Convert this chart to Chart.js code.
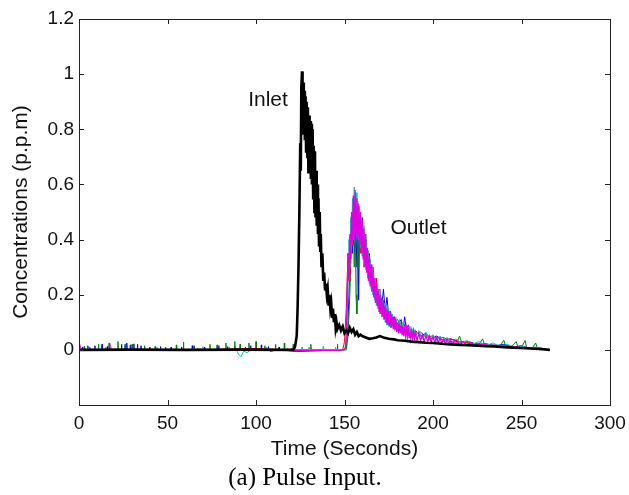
<!DOCTYPE html>
<html>
<head>
<meta charset="utf-8">
<script src="https://cdn.jsdelivr.net/npm/chart.js@4.4.1/dist/chart.umd.min.js"></script>
<style>
html,body{margin:0;padding:0;background:#fff;}
#wrap{width:629px;height:495px;}
</style>
</head>
<body>
<div id="wrap"><canvas id="c" width="629" height="495"></canvas></div>
<script>
// ---------- DATA ----------
const xTicks = [0, 50, 100, 150, 200, 250, 300];
const yTicks = [0, 0.2, 0.4, 0.6, 0.8, 1, 1.2];
const xTitle = 'Time (Seconds)';
const yTitle = 'Concentrations (p.p.m)';
const caption = '(a) Pulse Input.';
const labelInlet = { text: 'Inlet', t: 106.8, c: 0.905 };
const labelOutlet = { text: 'Outlet', t: 191.8, c: 0.44 };

// Inlet concentration (black) [time s, ppm]
const inlet = [[0,0],[30,0.001],[60,0],[90,0.001],[121,0],[122,0.01],[123,0.05],[123.5,0.15],[124,0.3],[124.5,0.5],
[125,0.75],[125.3,0.65],[125.6,0.95],[126,1.01],[126.3,0.78],[126.6,0.97],[127,0.8],[127.3,0.94],[127.6,0.76],[128,0.92],
[128.3,0.72],[128.6,0.9],[129,0.7],[129.3,0.88],[129.6,0.64],[130,0.85],[130.3,0.7],[130.6,0.83],[131,0.62],[131.3,0.82],
[131.6,0.6],[132,0.8],[132.3,0.55],[132.6,0.74],[133,0.5],[133.3,0.72],[133.6,0.48],[134,0.65],[134.3,0.45],[134.6,0.6],
[135,0.42],[135.3,0.55],[135.6,0.38],[136,0.5],[136.3,0.36],[136.6,0.42],[137,0.3],[137.5,0.35],[138,0.25],[138.5,0.28],
[139,0.22],[139.5,0.24],[140,0.2],[140.5,0.22],[141,0.16],[141.5,0.2],[142,0.15],[142.5,0.17],[143,0.12],[143.5,0.15],
[144,0.1],[144.5,0.13],[145,0.08],[145.5,0.1],[146,0.075],[147,0.09],[148,0.07],[149,0.085],[150,0.06],[151,0.07],
[152,0.06],[153,0.08],[154,0.065],[155,0.075],[156,0.055],[157,0.065],[158,0.05],[159,0.055],[160,0.05],[162,0.045],
[164,0.04],[166,0.042],[168,0.045],[170,0.05],[172,0.045],[175,0.04],[178,0.038],[180,0.035],[184,0.033],[188,0.03],
[192,0.028],[196,0.026],[200,0.025],[205,0.022],[210,0.02],[215,0.018],[220,0.017],[225,0.015],[230,0.013],[235,0.012],
[240,0.01],[245,0.008],[250,0.007],[255,0.005],[260,0.003],[266,0]];

// Outlet concentrations, five repeat measurements [time s, ppm]
const outletMagenta = [[0,0],[4,-0.002],[20,0],[60,0],[100,0],[123,-0.003],[148,-0.002],[150,0.002],[150.5,0.01],[151,0.05],
[151.5,0.2],[152,0.35],[152.5,0.25],[153,0.42],[153.5,0.33],[154,0.5],[154.5,0.38],[155,0.56],[155.5,0.4],[156,0.58],
[156.5,0.42],[157,0.55],[157.5,0.4],[158,0.53],[158.5,0.38],[159,0.5],[159.5,0.35],[160,0.47],[160.5,0.33],[161,0.44],
[161.5,0.3],[162,0.4],[162.5,0.28],[163,0.37],[163.5,0.25],[164,0.34],[164.5,0.23],[165,0.31],[165.5,0.21],[166,0.28],
[166.5,0.19],[167,0.26],[167.5,0.17],[168,0.24],[168.5,0.16],[169,0.22],[169.5,0.14],[170,0.2],[170.5,0.13],[171,0.19],
[171.5,0.12],[172,0.17],[172.5,0.11],[173,0.16],[173.5,0.1],[174,0.15],[174.5,0.09],[175,0.14],[175.5,0.085],[176,0.13],
[176.5,0.08],[177,0.12],[177.5,0.075],[178,0.115],[178.5,0.07],[179,0.11],[179.5,0.065],[180,0.1],[180.5,0.06],[181,0.095],
[181.5,0.06],[182,0.09],[182.5,0.055],[183,0.085],[183.5,0.05],[184,0.08],[184.5,0.05],[185,0.078],[185.5,0.045],[186,0.075],
[186.5,0.045],[187,0.07],[187.5,0.04],[188,0.068],[188.5,0.04],[189,0.065],[189.5,0.038],[190,0.062],[191,0.035],[192,0.06],
[193,0.033],[194,0.055],[195,0.03],[196,0.052],[197,0.03],[198,0.05],[199,0.028],[200,0.047],[201,0.026],[202,0.045],
[203,0.025],[204,0.043],[205,0.023],[206,0.04],[207,0.022],[208,0.038],[209,0.02],[210,0.036],[211,0.02],[212,0.034],
[213,0.018],[214,0.032],[215,0.017],[217,0.03],[219,0.016],[221,0.027],[223,0.015],[225,0.024],[227,0.013],[229,0.021],
[232,0.012],[235,0.018],[238,0.01],[241,0.015],[244,0.008],[247,0.012],[250,0.006],[253,0.009],[256,0.004],[260,0.005],
[263,0.002],[266,0]];
const outletCyan = [[0,0],[89,0],[90,-0.015],[91.5,-0.025],[93,-0.005],[95,-0.01],[97,0],[150.5,0],[151,0.03],[151.5,0.1],
[152,0.25],[152.5,0.4],[153,0.3],[153.5,0.48],[154,0.36],[154.5,0.55],[155,0.4],[155.5,0.59],[156,0.45],[156.5,0.57],
[157,0.42],[157.5,0.54],[158,0.4],[158.5,0.52],[159,0.37],[159.5,0.48],[160,0.34],[160.5,0.45],[161,0.31],[161.5,0.42],
[162,0.29],[162.5,0.39],[163,0.26],[163.5,0.36],[164,0.24],[164.5,0.33],[165,0.22],[165.5,0.3],[166,0.2],[166.5,0.28],
[167,0.18],[167.5,0.26],[168,0.16],[168.5,0.24],[169,0.15],[169.5,0.22],[170,0.13],[170.5,0.2],[171,0.12],[171.5,0.18],
[172,0.11],[172.5,0.17],[173,0.1],[173.5,0.16],[174,0.09],[174.5,0.15],[175,0.085],[175.5,0.14],[176,0.08],[177,0.13],
[178,0.075],[179,0.12],[180,0.07],[181,0.11],[182,0.065],[183,0.1],[184,0.06],[185,0.09],[186,0.055],[187,0.085],
[188,0.05],[189,0.08],[190,0.045],[192,0.07],[194,0.04],[196,0.065],[198,0.035],[200,0.055],[202,0.03],[204,0.05],
[206,0.028],[208,0.045],[210,0.025],[213,0.04],[216,0.022],[219,0.035],[222,0.02],[226,0.03],[230,0.016],[234,0.025],
[238,0.012],[242,0.02],[246,0.01],[250,0.015],[254,0.006],[258,0.01],[262,0.003],[266,0]];
const outletBlue = [[0,0],[105,0],[108,-0.005],[123,-0.006],[150,0],[151,0.01],[152,0.1],[153,0.3],[154,0.5],[154.5,0.35],
[155,0.55],[155.5,0.4],[156,0.56],[157,0.3],[157.5,0.5],[158,0.18],[158.5,0.45],[159,0.4],[160,0.48],[161,0.35],
[162,0.42],[163,0.3],[164,0.35],[165,0.27],[166,0.3],[167,0.22],[168,0.25],[169,0.18],[170,0.2],[171,0.15],
[172,0.22],[173,0.14],[174,0.19],[175,0.12],[176,0.14],[177,0.1],[178,0.12],[180,0.09],[182,0.11],[183,0.07],[184,0.12],
[185,0.07],[186,0.09],[188,0.06],[190,0.07],[193,0.05],[196,0.06],[199,0.04],[202,0.05],[206,0.035],[210,0.04],[215,0.025],
[220,0.03],[225,0.02],[230,0.022],[235,0.015],[240,0.02],[245,0.01],[250,0.015],[255,0.005],[260,0.008],[266,0]];
const outletGreen = [[0,0],[151,0],[152,0.05],[153,0.2],[154,0.4],[155,0.5],[155.5,0.3],[156,0.52],[156.5,0.2],[157,0.13],
[157.5,0.45],[158,0.3],[158.5,0.5],[159,0.38],[160,0.45],[161,0.33],[162,0.38],[163,0.28],[164,0.33],[165,0.25],
[166,0.28],[167,0.21],[168,0.24],[169,0.17],[170,0.2],[171,0.14],[172,0.17],[173,0.12],[174,0.15],[175,0.11],
[176,0.13],[178,0.1],[180,0.11],[182,0.08],[184,0.09],[186,0.07],[188,0.075],[190,0.055],[193,0.065],[196,0.045],
[199,0.05],[202,0.04],[206,0.045],[210,0.03],[214,0.035],[215,0.05],[216,0.03],[220,0.025],[226,0.02],[228,0.04],
[229,0.02],[232,0.018],[238,0.015],[240,0.035],[241,0.014],[244,0.01],[247,0.03],[248,0.009],[250,0.008],[252,0.034],
[253,0.007],[256,0.005],[258,0.025],[259,0.004],[262,0.003],[266,0]];
const outletRed = [[0,0],[92,0.004],[100,0.005],[120,0],[149,0],[150,0.03],[151,0.15],[152,0.35],[153,0.25],[154,0.45],
[155,0.38],[156,0.55],[157,0.42],[158,0.5],[159,0.35],[160,0.44],[161,0.3],[162,0.38],[163,0.28],[164,0.33],
[165,0.24],[166,0.3],[167,0.2],[168,0.26],[169,0.15],[170,0.22],[171,0.12],[172,0.18],[173,0.11],[174,0.15],
[175,0.13],[176,0.1],[178,0.12],[180,0.08],[182,0.1],[184,0.07],[186,0.08],[188,0.06],[190,0.065],[193,0.05],
[196,0.055],[199,0.04],[202,0.045],[206,0.035],[210,0.04],[215,0.03],[220,0.025],[228,0.02],[236,0.015],[244,0.01],
[252,0.007],[260,0.003],[266,0]];

// Small baseline spikes before the pulse arrives [time s, ppm]
const spikesBlue = [[2,0.01],[5,0.015],[9,0.015],[13,0.02],[16,0.012],[24,0.02],[27,0.025],[29,0.018],[31,0.022],[33,0.02],[35,0.015],[40,0.01],[46,0.012],[52,0.01],[58,0.01],[64,0.015],[71,0.01],[79,0.015],[84,0.012],[88,0.012],[94,0.01],[97,0.015],[103,0.018],[107,0.012],[113,0.01]];
const spikesGreen = [[3,0.012],[6,0.01],[11,0.02],[17,0.025],[22,0.03],[26,0.02],[30,0.02],[37,0.015],[43,0.012],[49,0.01],[55,0.018],[59,0.028],[65,0.015],[74,0.02],[78,0.018],[83,0.025],[88,0.03],[91,0.02],[96,0.025],[100,0.03],[105,0.015],[111,0.02],[116,0.025],[121,0.02],[131,0.02],[146,0.02]];
const spikesCyan = [[5,0.008],[15,0.01],[44,0.01],[70,0.012],[85,0.01],[106,0.01],[126,0.01],[130,0.01],[138,0.012],[145,0.01]];
const spikesMagenta = [[1,0.005],[18,0.006],[120,0.006]];
const spikesRed = [[40,0.008],[67,0.006],[118,0.006]];

// ---------- helpers ----------
function toPts(arr, spikes) {
  const pts = arr.map(([t, c]) => ({ x: t, y: c }));
  (spikes || []).forEach(([t, h]) => {
    pts.push({ x: t - 0.2, y: 0 }, { x: t, y: h }, { x: t + 0.2, y: 0 });
  });
  pts.sort((a, b) => a.x - b.x);
  return pts;
}

const FONT = '"Liberation Sans", Arial, Helvetica, sans-serif';

const boxPlugin = {
  id: 'boxPlugin',
  afterDraw(chart) {
    const { ctx, chartArea: a, scales: { x, y } } = chart;
    ctx.save();
    ctx.strokeStyle = '#222';
    ctx.lineWidth = 1;
    ctx.strokeRect(Math.round(a.left) + 0.5, Math.round(a.top) + 0.5, Math.round(a.right - a.left), Math.round(a.bottom - a.top));
    const L = 5;
    ctx.beginPath();
    xTicks.forEach(v => {
      const px = Math.round(x.getPixelForValue(v)) + 0.5;
      ctx.moveTo(px, a.bottom); ctx.lineTo(px, a.bottom - L);
      ctx.moveTo(px, a.top); ctx.lineTo(px, a.top + L);
    });
    yTicks.forEach(v => {
      const py = Math.round(y.getPixelForValue(v)) + 0.5;
      ctx.moveTo(a.left, py); ctx.lineTo(a.left + L, py);
      ctx.moveTo(a.right, py); ctx.lineTo(a.right - L, py);
    });
    ctx.stroke();
    ctx.fillStyle = '#111';
    ctx.font = '21px ' + FONT;
    ctx.textAlign = 'center';
    ctx.textBaseline = 'middle';
    [labelInlet, labelOutlet].forEach(l => {
      ctx.fillText(l.text, x.getPixelForValue(l.t), y.getPixelForValue(l.c));
    });
    ctx.restore();
  }
};

new Chart(document.getElementById('c'), {
  type: 'line',
  data: {
    datasets: [
      { data: toPts(inlet), borderColor: '#000000', borderWidth: 2.6 },
      { data: toPts(outletMagenta, spikesMagenta), borderColor: '#e000e0', borderWidth: 1.3 },
      { data: toPts(outletCyan, spikesCyan), borderColor: '#00c4c4', borderWidth: 1 },
      { data: toPts(outletRed, spikesRed), borderColor: '#ff0000', borderWidth: 1 },
      { data: toPts(outletGreen, spikesGreen), borderColor: '#008000', borderWidth: 1 },
      { data: toPts(outletBlue, spikesBlue), borderColor: '#0000ff', borderWidth: 1 }
    ].map(d => Object.assign(d, { pointRadius: 0, tension: 0, fill: false, borderJoinStyle: 'miter' }))
  },
  options: {
    responsive: false,
    animation: false,
    events: [],
    layout: { padding: { top: 19, right: 19, left: 0, bottom: 0 } },
    plugins: {
      legend: { display: false },
      tooltip: { enabled: false },
      title: {
        display: true, position: 'bottom', text: caption, color: '#000',
        font: { family: '"Liberation Serif", "Times New Roman", serif', size: 25, weight: 'normal' },
        padding: { top: 0, bottom: 2 }
      }
    },
    scales: {
      x: {
        type: 'linear', min: 0, max: 300,
        afterBuildTicks: s => { s.ticks = xTicks.map(v => ({ value: v })); },
        ticks: { color: '#111', font: { family: FONT, size: 19 }, padding: 7, maxRotation: 0, autoSkip: false },
        grid: { display: false, drawTicks: false },
        border: { display: false },
        title: { display: true, text: xTitle, color: '#111', font: { family: FONT, size: 21 }, padding: { top: 0, bottom: 1 } },
        afterFit: s => { s.height = 58; s.paddingRight = 0; s.paddingLeft = 0; }
      },
      y: {
        type: 'linear', min: -0.2, max: 1.2,
        afterBuildTicks: s => { s.ticks = yTicks.map(v => ({ value: v })); },
        ticks: { color: '#111', font: { family: FONT, size: 19 }, padding: 5, callback: v => String(Math.round(v * 10) / 10) },
        grid: { display: false, drawTicks: false },
        border: { display: false },
        title: { display: true, text: yTitle, color: '#111', font: { family: FONT, size: 21 }, padding: { top: 9, bottom: 0 } },
        afterFit: s => { s.width = 79; s.paddingTop = 0; s.paddingBottom = 0; }
      }
    }
  },
  plugins: [boxPlugin]
});
</script>
</body>
</html>
